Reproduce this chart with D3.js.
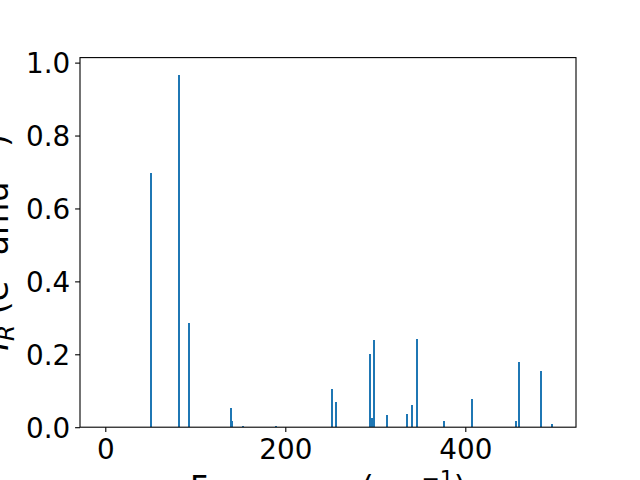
<!DOCTYPE html>
<html>
<head>
<meta charset="utf-8">
<script src="https://cdn.jsdelivr.net/npm/d3@7"></script>
<style>
  html, body { margin: 0; padding: 0; background: #fff; }
  svg { display: block; }
  text { font-family: "DejaVu Sans", sans-serif; fill: #000; }
</style>
</head>
<body>
<svg id="chart" width="640" height="480"></svg>
<script>
// Data
const frequencies = [50.8, 81.9, 93.0, 139.3, 140.8, 153.0, 190.0, 251.6, 256.0, 294.4, 295.8, 298.2, 313.3, 335.6, 340.4, 346.0, 376.0, 407.0, 456.0, 459.3, 483.8, 496.7];
const intensities = [0.697, 0.9655, 0.285, 0.052, 0.016, 0.003, 0.002, 0.104, 0.069, 0.200, 0.025, 0.239, 0.033, 0.036, 0.060, 0.242, 0.016, 0.077, 0.016, 0.179, 0.154, 0.008];
const xTicks = [0, 200, 400];
const yTicks = [0.0, 0.2, 0.4, 0.6, 0.8, 1.0];
const xLimits = [-28.1, 523];
const barWidth = 2.2;

const W = 640, H = 480;
const margin = { left: 80, right: 64, top: 57.6, bottom: 52.8 };
const svg = d3.select("#chart");
const iw = W - margin.left - margin.right;
const ih = H - margin.top - margin.bottom;

const x = d3.scaleLinear().domain(xLimits).range([margin.left, margin.left + iw]);
const y = d3.scaleLinear().domain([0, d3.max(intensities) * 1.05]).range([margin.top + ih, margin.top]);

const data = frequencies.map((f, i) => ({ f, v: intensities[i] }));

svg.append("g")
  .attr("shape-rendering", "crispEdges")
  .selectAll("rect")
  .data(data)
  .join("rect")
  .attr("x", d => x(d.f - barWidth / 2))
  .attr("width", d => x(d.f + barWidth / 2) - x(d.f - barWidth / 2))
  .attr("y", d => y(d.v))
  .attr("height", d => y(0) - y(d.v))
  .attr("fill", "#1f77b4");

const fs = 27.8;
const xfs = 31.3;
const yfs = 33.3;
const xAxis = d3.axisBottom(x).tickValues(xTicks).tickFormat(d3.format("d")).tickSize(4.9).tickPadding(4.9);
const gx = svg.append("g").attr("transform", `translate(0,${margin.top + ih})`).call(xAxis);
gx.select(".domain").remove();
gx.selectAll("line").attr("stroke", "#000").attr("stroke-width", 1.1);
gx.selectAll("text").attr("font-size", fs).attr("font-family", "DejaVu Sans").attr("dy", "0.8em");

const yAxis = d3.axisLeft(y).tickValues(yTicks).tickFormat(d3.format(".1f")).tickSize(4.9).tickPadding(4.9);
const gy = svg.append("g").attr("transform", `translate(${margin.left},0)`).call(yAxis);
gy.select(".domain").remove();
gy.selectAll("line").attr("stroke", "#000").attr("stroke-width", 1.1);
gy.selectAll("text").attr("font-size", fs).attr("font-family", "DejaVu Sans").attr("dy", "0.36em");

// frame
svg.append("rect")
  .attr("x", margin.left).attr("y", margin.top)
  .attr("width", iw).attr("height", ih)
  .attr("fill", "none").attr("stroke", "#000").attr("stroke-width", 1.1);

// x label
const xl = svg.append("text")
  .attr("x", margin.left + iw / 2).attr("y", 498)
  .attr("text-anchor", "middle").attr("font-size", xfs);
xl.append("tspan").text("Frequency (cm");
xl.append("tspan").attr("font-size", xfs * 0.7).attr("dy", -12).text("\u22121");
xl.append("tspan").attr("dy", 12).text(")");

// y label
const yl = svg.append("text")
  .attr("transform", `translate(8,${margin.top + ih / 2}) rotate(-90)`)
  .attr("text-anchor", "middle").attr("font-size", yfs);
yl.append("tspan").attr("font-style", "italic").text("I");
yl.append("tspan").attr("font-style", "italic").attr("font-size", yfs * 0.7).attr("dy", 6).text("R");
yl.append("tspan").attr("dy", -6).text(" (e");
yl.append("tspan").attr("font-size", yfs * 0.7).attr("dy", -13).text("2");
yl.append("tspan").attr("dy", 13).text(" amu");
yl.append("tspan").attr("font-size", yfs * 0.7).attr("dy", -13).text("\u22121");
yl.append("tspan").attr("dy", 13).text(")");
</script>
</body>
</html>
